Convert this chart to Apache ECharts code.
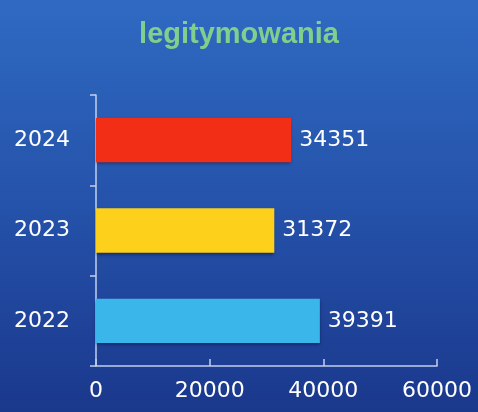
<!DOCTYPE html>
<html><head><meta charset="utf-8">
<script src="https://cdn.jsdelivr.net/npm/echarts@6/dist/echarts.min.js"></script>
<style>html,body{margin:0;padding:0;}#c{width:478px;height:412px;}</style>
</head><body><div id="c"></div>
<script>
const categories = ['2022', '2023', '2024'];
const values = [39391, 31372, 34351];
const barColors = ['#3bb6ea', '#fdd01c', '#f22e17'];
const xTicks = [0, 20000, 40000, 60000];

const chart = echarts.init(document.getElementById('c'));
chart.setOption({
  backgroundColor: new echarts.graphic.LinearGradient(0, 0, 0, 1, [
    {offset: 0, color: '#2f6ac2'},
    {offset: 0.5, color: '#2552aa'},
    {offset: 1, color: '#1a388c'}
  ]),
  title: {
    text: 'legitymowania', left: 'center', top: 15,
    textStyle: {color: '#80cf8c', fontSize: 29, fontWeight: 'bold', fontFamily: 'Liberation Sans'}
  },
  grid: {left: 96, right: 41, top: 95, bottom: 46},
  xAxis: {
    type: 'value', min: xTicks[0], max: xTicks[xTicks.length - 1], interval: 20000,
    axisLine: {show: true, lineStyle: {color: '#c2d0ec', width: 1.5}},
    axisTick: {show: true, inside: true, length: 7, lineStyle: {color: '#c2d0ec', width: 1.5}},
    splitLine: {show: false},
    axisLabel: {color: '#ffffff', fontSize: 22, fontFamily: 'DejaVu Sans', margin: 14,
      formatter: v => String(v)}
  },
  yAxis: {
    type: 'category', data: categories,
    axisLine: {show: true, lineStyle: {color: '#c2d0ec', width: 1.5}},
    axisTick: {show: true, length: 6, lineStyle: {color: '#c2d0ec', width: 1.5}},
    axisLabel: {color: '#ffffff', fontSize: 22, fontFamily: 'DejaVu Sans', margin: 26}
  },
  series: [{
    type: 'bar', barWidth: '49%',
    data: values.map((v, i) => ({value: v, itemStyle: {color: barColors[i]}})),
    label: {show: true, position: 'right', distance: 8, color: '#ffffff', fontSize: 22, fontFamily: 'DejaVu Sans'},
    itemStyle: {shadowColor: 'rgba(0,0,30,0.4)', shadowBlur: 3, shadowOffsetY: 2}
  }],
  animation: false
});
</script></body></html>
